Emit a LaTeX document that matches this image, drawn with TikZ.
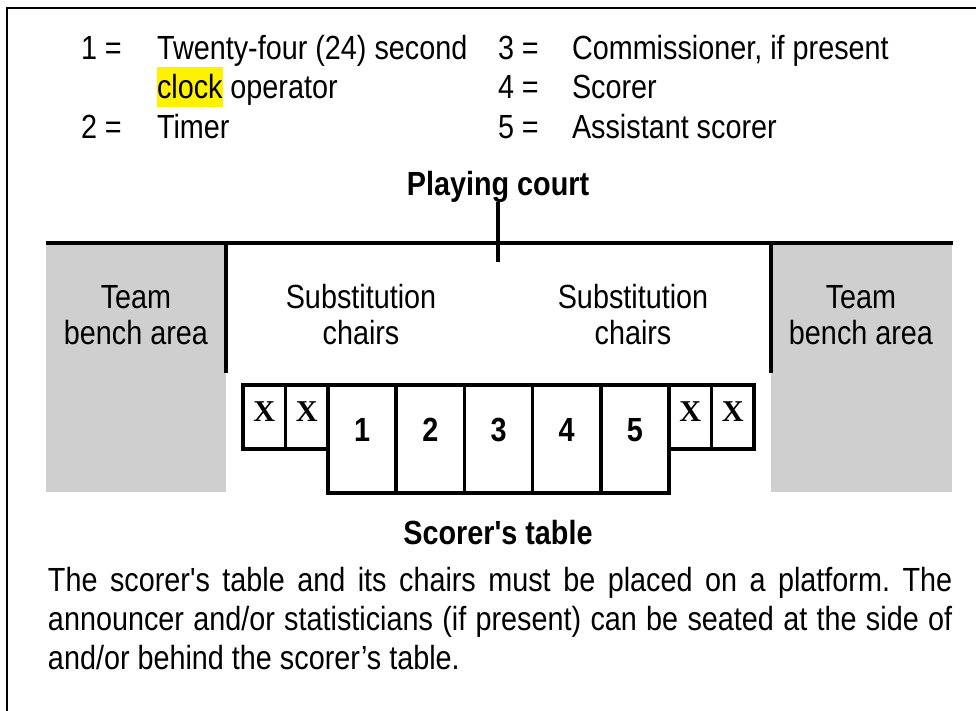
\documentclass[tikz,border=0pt]{standalone}
\usepackage{fontspec}
\setmainfont{Liberation Sans}[FakeStretch=0.86,Ligatures=TeXOff]
\newfontfamily\seatfont{Liberation Serif}
\usetikzlibrary{positioning}
\definecolor{benchgray}{RGB}{207,207,207}
\frenchspacing
\tikzset{
  every node/.style={inner sep=0pt,outer sep=0pt},
  txt/.style={font=\fontsize{23.8}{27.7}\selectfont},
  head/.style={font=\fontsize{23.8}{27.7}\selectfont\bfseries},
  area/.style={align=center,font=\fontsize{23.8}{25.6}\selectfont},
  wall/.style={line width=2.5pt},
  seat/.style={draw,line width=2.5pt,anchor=north west,minimum width=1.0625cm,
    text height=.9cm,text depth=.7cm,font=\seatfont\bfseries\fontsize{21.5}{22}\selectfont},
  desk/.style={draw,line width=2.5pt,anchor=north west,minimum width=1.705cm,
    text height=1.4cm,text depth=1.3cm,font=\fontsize{23.8}{27.7}\selectfont\bfseries}
}
\begin{document}
\begin{tikzpicture}[x=0.025cm,y=-0.025cm]
  \useasboundingbox (0,0) rectangle (976,711);
  \draw[line width=1.7pt] (976,8) -- (7,8) -- (7,711);
  % key
  \node[txt,anchor=base west] (key1) at (81,59) {1 =};
  \node[txt,anchor=base west] (def1) at (157,59) {Twenty-four (24) second};
  \node[txt,anchor=base west,fill=yellow,text height=.775cm,text depth=.225cm] (clock) at (157,98) {clock};
  \node[txt,anchor=base west,xshift=5.6pt] (oper) at (clock.base east) {operator};
  \node[txt,anchor=base west] (key2) at (81,138) {2 =};
  \node[txt,anchor=base west] (def2) at (157,138) {Timer};
  \node[txt,anchor=base west] (key3) at (498,59) {3 =};
  \node[txt,anchor=base west] (def3) at (572,59) {Commissioner, if present};
  \node[txt,anchor=base west] (key4) at (498,98) {4 =};
  \node[txt,anchor=base west] (def4) at (572,98) {Scorer};
  \node[txt,anchor=base west] (key5) at (498,138) {5 =};
  \node[txt,anchor=base west] (def5) at (572,138) {Assistant scorer};
  % court side
  \node[head,anchor=base] (court) at (498,195) {Playing court};
  \coordinate (mid) at (498,262);
  \fill[benchgray] (46,244) rectangle (226,492);
  \fill[benchgray] (771,244) rectangle (952,492);
  \draw[wall] (46,243) -- (953,243);
  \draw[wall] (court.south) -- (mid);
  \draw[wall] (226,243) -- (226,373);
  \draw[wall] (771,243) -- (771,373);
  \node[area] (benchL) at (136,315) {Team\\bench area};
  \node[area] (benchR) at (861,315) {Team\\bench area};
  \node[area] (subL) at (361,315) {Substitution\\chairs};
  \node[area] (subR) at (633,315) {Substitution\\chairs};
  % table
  \foreach \s/\xx in {a/243,b/285.5,c/669,d/711.5}
    \node[seat] (seat\s) at (\xx,385) {X};
  \foreach \n in {1,...,5}
    \node[desk] (desk\n) at ({328+68.2*(\n-1)},385) {\n};
  \node[head,anchor=base] (table) at (498,544) {Scorer's table};
  \node[txt,anchor=north west,text width=22.6cm,align=justify] (note) at (48,567)
    {The scorer's table and its chairs must be placed on a platform. The\linebreak
     announcer and/or statisticians (if present) can be seated at the side of\linebreak
     and/or behind the scorer’s table.};
\end{tikzpicture}
\end{document}
